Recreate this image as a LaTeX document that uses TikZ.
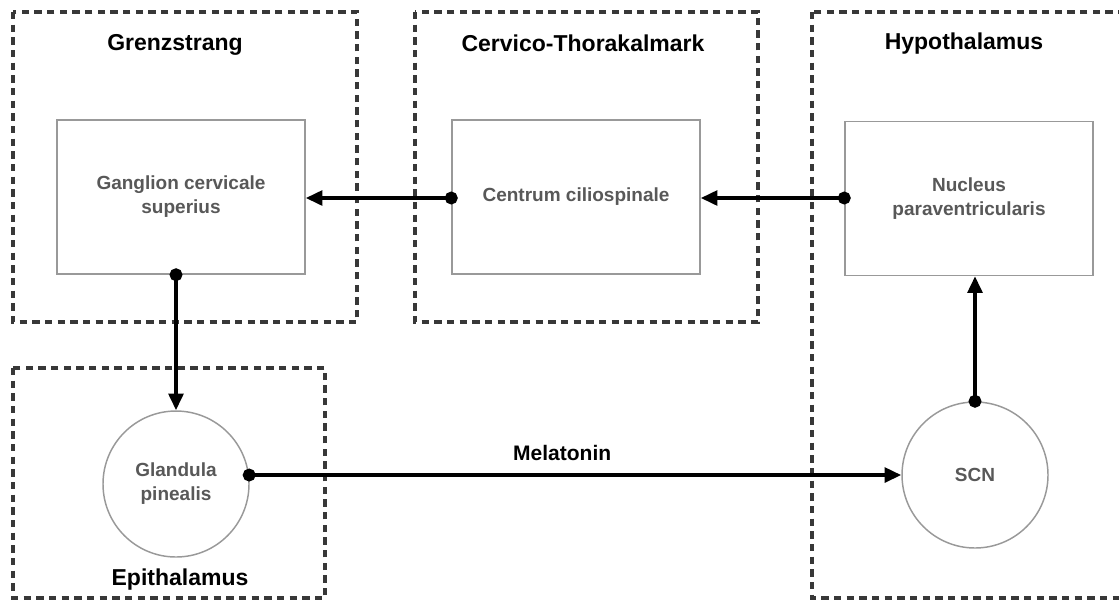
\documentclass[tikz,border=0pt]{standalone}
\usepackage{fontspec}
\setmainfont{Liberation Sans}
\usetikzlibrary{arrows.meta}
\definecolor{boxline}{HTML}{999999}
\definecolor{boxtext}{HTML}{585858}
\definecolor{groupline}{HTML}{383838}
\begin{document}
\begin{tikzpicture}[x=0.75pt,y=-0.75pt,
  groupbox/.style={draw=groupline,line width=2.3pt,dash pattern=on 5.5pt off 4pt},
  grouplabel/.style={font=\fontsize{17.25}{20}\selectfont\bfseries,text=black},
  cell/.style={draw=boxline,line width=1.1pt,fill=white,rectangle,
    minimum width=186pt,minimum height=115.5pt,align=center,
    font=\fontsize{14.25}{18}\selectfont\bfseries,text=boxtext},
  organ/.style={draw=boxline,line width=1.1pt,fill=white,circle,
    minimum size=109.5pt,inner sep=0pt,align=center,
    font=\fontsize{14.25}{18}\selectfont\bfseries,text=boxtext},
  conn/.style={line width=2.8pt,shorten <=-4.8pt,
    {Circle[length=9.6pt]}-{Triangle[length=12.5pt,width=11pt]}}]
\useasboundingbox (0,0) rectangle (1119,601);
\clip (0,0) rectangle (1119,601);

% regions
\draw[groupbox] (13,12) rectangle (357,322);
\draw[groupbox] (415,12) rectangle (758,322);
\draw[groupbox] (812,12) rectangle (1130,598);
\draw[groupbox] (13,368) rectangle (325,598);

\node[grouplabel] (lgrenz) at (175,45) {Grenzstrang};
\node[grouplabel] (lcerv) at (583,43) {Cervico-Thorakalmark};
\node[grouplabel] (lhypo) at (964,44) {Hypothalamus};
\node[grouplabel] (lepi) at (180,580) {Epithalamus};

% structures
\node[cell] (gang) at (181,197) {Ganglion cervicale\\superius};
\node[cell] (cent) at (576,197) {Centrum ciliospinale};
\node[cell] (nuc) at (969,198.5) {Nucleus\\paraventricularis};
\node[organ] (gland) at (176,484) {Glandula\\pinealis};
\node[organ] (scn) at (975,475) {SCN};

% pathways
\draw[conn] (cent.west |- 0,198) -- (gang.east |- 0,198);
\draw[conn] (nuc.west |- 0,198) -- (cent.east |- 0,198);
\draw[conn] (gland.north |- gang.south) -- (gland.north);
\draw[conn] (scn.north) -- (scn.north |- nuc.south);
\draw[conn] (gland.7) -- (gland.7 -| scn.west)
  node[pos=0.48,above=6pt,font=\fontsize{15.75}{18}\selectfont\bfseries] (mel) {Melatonin};
\end{tikzpicture}
\end{document}
